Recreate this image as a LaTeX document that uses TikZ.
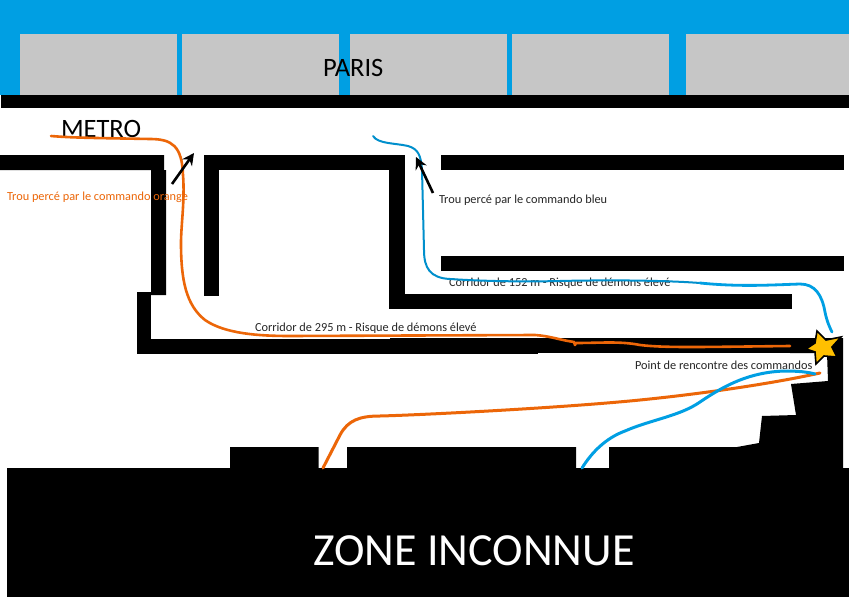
\documentclass[tikz,border=0pt]{standalone}
\usepackage{fontspec}
\setmainfont{Carlito}
\usetikzlibrary{arrows.meta}
\definecolor{sky}{HTML}{009FE3}
\definecolor{roof}{HTML}{C6C6C6}
\definecolor{oran}{HTML}{EC6608}
\definecolor{star}{HTML}{FFC000}
\tikzset{
  wall/.style={fill=black,draw=none},
  block/.style={fill=roof,draw=none},
  lab/.style={anchor=base west,inner sep=0pt,outer sep=0pt,font=\fontsize{12.3}{14}\selectfont,text=black!85},
  biglab/.style={anchor=base west,inner sep=0pt,outer sep=0pt,font=\fontsize{26.5}{30}\selectfont},
  orangepath/.style={draw=oran,line width=3pt,line cap=round,line join=round},
  bluepath/.style={draw=sky!90!black,line width=2pt,line cap=round,line join=round},
  bluethick/.style={draw=sky,line width=3pt,line cap=round,line join=round},
  hole/.style={draw=black,line width=2.6pt,-{Stealth[length=12pt,width=12pt,inset=4pt]}},
}
\begin{document}
\begin{tikzpicture}[x=1pt,y=-1pt]
\useasboundingbox (0,0) rectangle (849,597);
\fill[white] (0,0) rectangle (849,597);
% Paris
\fill[sky] (0,0) rectangle (849,95);
\foreach \a/\b in {20/177,182/339,350/507,512/669,686/849}
  \fill[block] (\a,34) rectangle (\b,95);
\fill[wall] (1,95) rectangle (849,108);
\node[biglab] (paris) at (323,76) {PARIS};
\node[biglab] (metro) at (61,137) {METRO};
% corridors
\fill[wall] (0,155) -- (164,155) -- (164,170) -- (166,170) -- (166,295) -- (151,295) -- (151,292) -- (151,170) -- (0,170) -- cycle;
\fill[wall] (204,155) rectangle (405,170);
\fill[wall] (204,155) rectangle (219,296);
\fill[wall] (389,155) rectangle (405,309);
\fill[wall] (389,294) rectangle (792,309);
\fill[wall] (441,155) rectangle (844,170);
\fill[wall] (441,256) rectangle (844,271);
\fill[wall] (137,292) rectangle (151,354);
\fill[wall] (137,339) rectangle (538,354);
\fill[wall] (390,338) rectangle (791,353);
% bottom zone
\fill[wall] (7,597) -- (7,468) -- (230,468) -- (230,447) -- (318.5,447) -- (318.5,468) -- (347,468) -- (347,447) -- (576,447) -- (576,468) -- (609,468) -- (609,447) -- (737,447) -- (759,443) -- (762,416) -- (796,415) -- (791,384) -- (828,381) -- (827,353) -- (790,353) -- (790,338) -- (843,338) -- (843,468) -- (849,468) -- (849,597) -- cycle;
\node[anchor=base west,inner sep=0pt,text=white,font=\fontsize{46}{52}\selectfont] (zone) at (313,565) {ZONE INCONNUE};
% labels
\node[lab,text=oran] (trouo) at (7,200) {Trou percé par le commando orange};
\node[lab] (troub) at (439,203) {Trou percé par le commando bleu};
\node[lab] (c152) at (449,286) {Corridor de 152 m - Risque de démons élevé};
\node[lab] (c295) at (255,331) {Corridor de 295 m - Risque de démons élevé};
\node[lab] (pt) at (635,369) {Point de rencontre des commandos};
% routes
\draw[orangepath,line width=2.6pt] (51,136) .. controls (75,138) and (100,138) .. (150,139) .. controls (172,139) and (182,146) .. (183,175) .. controls (185,200) and (181,225) .. (181,243) .. controls (181,280) and (186,305) .. (205,320) .. controls (225,334) and (260,336) .. (290,336) -- (535,335) .. controls (550,336) and (560,340) .. (574,342) -- (575,345) -- (576,343) .. controls (600,343) and (620,341) .. (640,345) .. controls (665,348) and (700,347) .. (790,346);
\draw[orangepath] (323,468) -- (340,435) .. controls (348,420) and (360,416) .. (380,416) .. controls (420,415) and (560,408) .. (640,400) .. controls (700,394) and (770,384) .. (820,373);
\draw[bluepath] (373,136) .. controls (378,144) and (395,143) .. (408,146) .. controls (418,149) and (421,155) .. (422,170) -- (424,250) .. controls (424,268) and (430,278) .. (450,279) .. controls (480,281) and (520,282) .. (560,281) .. controls (600,280) and (660,280) .. (700,283);
\draw[bluepath,line width=2.8pt,draw=sky] (700,283) .. controls (740,287) and (770,285) .. (800,284) .. controls (815,284) and (822,295) .. (825,312) .. controls (827,322) and (830,328) .. (832,332);
\draw[bluethick] (582,468) .. controls (592,452) and (606,438) .. (625,431) .. controls (650,420) and (680,416) .. (700,402) .. controls (725,385) and (750,372) .. (785,371) .. controls (798,371) and (808,372) .. (815,374);
% star
\draw[fill=star,draw=black,line width=1.6pt,line join=miter] (817,331) -- (826,340) -- (841,337) -- (832,347) -- (837,357) -- (824,356) -- (816,364) -- (815,352) -- (806,349) -- (815,343) -- cycle;
% arrows
\coordinate (ao0) at (172,184); \coordinate (ao1) at (194,153);
\coordinate (ab0) at (433,193); \coordinate (ab1) at (416,157);
\draw[hole] (ao0) -- (ao1);
\draw[hole] (ab0) -- (ab1);
\end{tikzpicture}
\end{document}
